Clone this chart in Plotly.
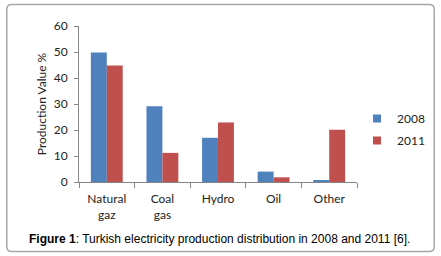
import plotly.graph_objects as go

categories = ["Natural<br>gaz", "Coal<br>gas", "Hydro", "Oil", "Other"]
values_2008 = [49.8, 29.1, 17.0, 4.0, 0.7]
values_2011 = [44.8, 11.2, 22.9, 1.8, 20.1]
series_names = ["2008", "2011"]
colors = ["#4F81BD", "#C0504D"]
y_ticks = [0, 10, 20, 30, 40, 50, 60]
caption_bold = "Figure 1"
caption_rest = ": Turkish electricity production distribution in 2008 and 2011 [6]."

W, H = 441, 256
L, R, T, B = 79, 83, 26, 74
pw, ph = W - L - R, H - T - B

def px(x):
    return (x - L) / pw

def py(y):
    return (H - B - y) / ph

fig = go.Figure()
for name, vals, col in zip(series_names, [values_2008, values_2011], colors):
    fig.add_trace(go.Bar(x=categories, y=vals, name=name, marker_color=col,
                         marker_line_width=0, showlegend=False))
for name, col in zip(series_names, colors):
    fig.add_trace(go.Scatter(x=[None], y=[None], mode="markers", name=name,
                             marker=dict(symbol="square", size=8, color=col),
                             legendgroup=name))

# rounded border
x0, x1, y0, y1, r = 6.5, 435.5, 4.5, 251.5, 5
pts = [
    f"M{px(x0+r):.5f},{py(y0):.5f}", f"L{px(x1-r):.5f},{py(y0):.5f}",
    f"Q{px(x1):.5f},{py(y0):.5f} {px(x1):.5f},{py(y0+r):.5f}",
    f"L{px(x1):.5f},{py(y1-r):.5f}",
    f"Q{px(x1):.5f},{py(y1):.5f} {px(x1-r):.5f},{py(y1):.5f}",
    f"L{px(x0+r):.5f},{py(y1):.5f}",
    f"Q{px(x0):.5f},{py(y1):.5f} {px(x0):.5f},{py(y1-r):.5f}",
    f"L{px(x0):.5f},{py(y0+r):.5f}",
    f"Q{px(x0):.5f},{py(y0):.5f} {px(x0+r):.5f},{py(y0):.5f}", "Z",
]
fig.add_shape(type="path", xref="paper", yref="paper", path=" ".join(pts),
              line=dict(color="#A6A6A6", width=1.5), layer="above")

fig.add_annotation(xref="paper", yref="paper", x=px(220.5), y=py(239),
                   text=f"<b>{caption_bold}</b>{caption_rest}", showarrow=False,
                   xanchor="center", yanchor="middle",
                   font=dict(family="Liberation Sans, Arial", size=12, color="#000"))

fig.update_layout(
    width=W, height=H,
    margin=dict(l=L, r=R, t=T, b=B, pad=0),
    paper_bgcolor="white", plot_bgcolor="white",
    barmode="group", bargap=0.427, bargroupgap=0,
    font=dict(family="Lato, Open Sans, sans-serif", size=12, color="#222"),
    legend=dict(x=px(357), y=py(104), xanchor="left", yanchor="top",
                font=dict(size=12, color="#222"), tracegroupgap=3,
                itemwidth=30, bgcolor="rgba(0,0,0,0)"),
)
fig.update_xaxes(showline=True, linecolor="#868686", linewidth=1,
                 ticks="outside", tickson="boundaries", ticklen=5, tickcolor="#868686",
                 showgrid=False, tickfont=dict(size=12), ticklabelstandoff=6)
fig.update_yaxes(range=[0, 60], tickvals=y_ticks, showline=True, linecolor="#868686",
                 linewidth=1, ticks="outside", ticklen=4, tickcolor="#868686",
                 showgrid=False, zeroline=False,
                 title=dict(text="Production Value %", font=dict(size=12), standoff=4),
                 tickfont=dict(size=12), ticklabelstandoff=4)

fig.write_html("out.html", config={"displayModeBar": False},
               post_script="document.body.style.margin='0';")
